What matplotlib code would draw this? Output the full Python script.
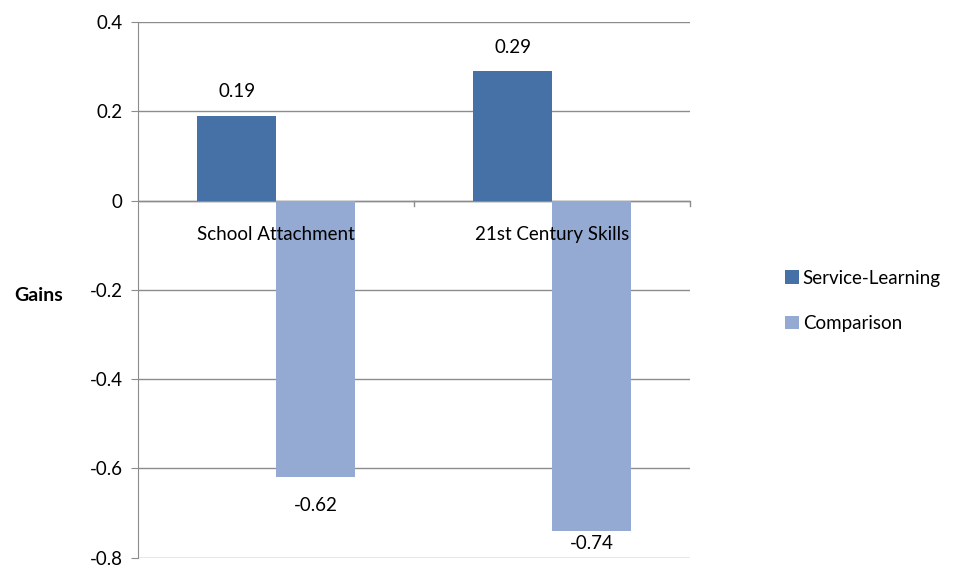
import numpy as np
import matplotlib.pyplot as plt

categories = ['School Attachment', '21st Century Skills']
service_learning = [0.19, 0.29]
comparison = [-0.62, -0.74]
yticks = [0.4, 0.2, 0, -0.2, -0.4, -0.6, -0.8]

plt.rcParams['font.family'] = ['Lato', 'DejaVu Sans']
fs = 13.5

fig = plt.figure(figsize=(9.54, 5.70), dpi=100)
ax = fig.add_axes([0.1447, 0.0215, 0.5786, 0.9399])

x = np.arange(len(categories))
w = 0.285
c1, c2 = '#4571A7', '#95AAD2'
b1 = ax.bar(x - w/2, service_learning, w, color=c1, label='Service-Learning', zorder=3)
b2 = ax.bar(x + w/2, comparison, w, color=c2, label='Comparison', zorder=3)

for rect, v in zip(b1, service_learning):
	ax.annotate('%.2f' % v, (rect.get_x() + rect.get_width()/2, v), xytext=(0, 11),
		textcoords='offset points', ha='center', va='bottom', fontsize=fs)
for rect, v in zip(b2, comparison):
	# labels below the bar, pushed back inside the plot near the bottom (like Excel)
	ly = max(v - 0.062, -0.769)
	ax.text(rect.get_x() + rect.get_width()/2, ly, '%.2f' % v, ha='center', va='center', fontsize=fs)

ax.set_xlim(-0.5, 1.5)
ax.set_ylim(-0.8, 0.4)
ax.set_yticks(yticks)
ax.set_yticklabels(['%g' % t for t in yticks], fontsize=fs)
ax.yaxis.grid(True, color='#8c8c8c', linewidth=1, zorder=0)
ax.tick_params(axis='y', length=5, color='#8c8c8c', pad=6)

# category axis drawn at zero
ax.set_xticks([])
ax.axhline(0, color='#8c8c8c', linewidth=1, zorder=2)
for b in [0.5, 1.5]:
	ax.plot([b, b], [0, -0.012], color='#8c8c8c', linewidth=1, zorder=2, clip_on=False)
for xi, name in zip(x, categories):
	ax.text(xi, -0.075, name, ha='center', va='center', fontsize=fs, zorder=4)

for s in ['top', 'right', 'bottom']:
	ax.spines[s].set_visible(False)
ax.spines['left'].set_color('#8c8c8c')

ax.set_ylabel('Gains', rotation=0, fontsize=14, fontweight='bold', labelpad=0, va='center', ha='center')
ax.yaxis.set_label_coords(-0.18, 0.49)

leg = fig.legend(loc='center left', bbox_to_anchor=(0.805, 0.472), frameon=False, fontsize=fs,
	handlelength=0.75, handleheight=0.75, handletextpad=0.2, labelspacing=1.5)

plt.savefig('out.png', dpi=100)
